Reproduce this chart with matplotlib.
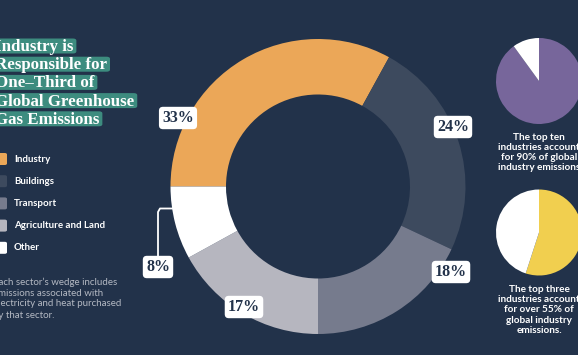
import matplotlib
matplotlib.use("Agg")
import matplotlib.pyplot as plt
from matplotlib.patches import FancyBboxPatch

# data
sectors = ["Industry", "Buildings", "Transport", "Agriculture and Land", "Other"]
shares = [33, 24, 18, 17, 8]
sector_colors = ["#eba758", "#3d4a5e", "#767b8d", "#b6b6bf", "#ffffff"]

top_ten = [90, 10]
top_three = [55, 45]

title_lines = ["Industry is", "Responsible for", "One\u2013Third of",
               "Global Greenhouse", "Gas Emissions"]
note_lines = ["Each sector\u2019s wedge includes", "emissions associated with",
              "electricity and heat purchased", "by that sector."]
top_ten_text = "The top ten\nindustries account\nfor 90% of global\nindustry emissions"
top_three_text = "The top three\nindustries account\nfor over 55% of\nglobal industry\nemissions."

BG = "#22324a"
TEAL = "#3d8c7f"
W, H = 578, 355


def fx(x):
    return x / W


def fy(y):
    return 1 - y / H


fig = plt.figure(figsize=(W / 100, H / 100), dpi=100, facecolor=BG)

# main donut
cx, cy, R, r_in = 318, 186.5, 147.5, 92
ax = fig.add_axes([fx(cx - R), fy(cy + R), 2 * R / W, 2 * R / H])
ax.pie(shares, colors=sector_colors, startangle=180, counterclock=False,
       radius=1, wedgeprops=dict(width=(R - r_in) / R, linewidth=0))
ax.set_xlim(-1, 1)
ax.set_ylim(-1, 1)
ax.axis("off")

# percent labels (pixel positions of the boxes)
label_pos = [(178, 118), (453, 127), (451, 272), (244, 307), (158, 267)]
for (px, py), s in zip(label_pos, shares):
    fig.text(fx(px), fy(py), f"{s}%", ha="center", va="center",
             family="Liberation Serif", weight="bold", fontsize=11.5, color=BG,
             bbox=dict(boxstyle="round,pad=0.2,rounding_size=0.25",
                       fc="white", ec="none"))

# connector for the small wedge
fig.add_artist(plt.Line2D([fx(158), fx(158), fx(160), fx(172)],
                          [fy(258), fy(212), fy(208.5), fy(208.5)],
                          color="white", lw=1.3, transform=fig.transFigure))

# title with per-line highlight boxes
renderer = fig.canvas.get_renderer()
for i, line in enumerate(title_lines):
    yc = 46 + i * 18.2
    t = fig.text(fx(-5), fy(yc + 1), line, ha="left", va="center",
                 family="Liberation Serif", weight="bold", fontsize=12.2,
                 color="white", zorder=3)
    bb = t.get_window_extent(renderer)
    fig.add_artist(FancyBboxPatch((fx(-10), fy(yc + 7.5)), (bb.x1 + 13) / W, 15 / H,
                                  boxstyle="round,pad=0,rounding_size=0.006",
                                  fc=TEAL, ec="none", transform=fig.transFigure,
                                  zorder=2))

# legend
for i, (name, c) in enumerate(zip(sectors, sector_colors)):
    y = 159 + i * 22.2
    fig.add_artist(FancyBboxPatch((fx(-4), fy(y + 6)), 11 / W, 12 / H,
                                  boxstyle="round,pad=0,rounding_size=0.004",
                                  fc=c, ec="none", transform=fig.transFigure))
    fig.text(fx(14), fy(y), name, ha="left", va="center", family="Lato",
             weight="bold", fontsize=7, color="white")

# note
for i, line in enumerate(note_lines):
    fig.text(fx(-7), fy(282 + i * 11), line, ha="left", va="center",
             family="Lato", fontsize=7, color="#b4b9c3")

# small pies
pr = 43
ax1 = fig.add_axes([fx(539 - pr), fy(81 + pr), 2 * pr / W, 2 * pr / H])
ax1.pie(top_ten, colors=["#77669b", "white"], startangle=90, counterclock=False,
        wedgeprops=dict(linewidth=0))
ax1.set_xlim(-1, 1)
ax1.set_ylim(-1, 1)
ax1.axis("off")
fig.text(fx(539), fy(152.5), top_ten_text, ha="center", va="center", family="Lato",
         weight="bold", fontsize=7.2, color="white", linespacing=1.15)

ax2 = fig.add_axes([fx(539 - pr), fy(232.5 + pr), 2 * pr / W, 2 * pr / H])
ax2.pie(top_three, colors=["#f1cf4f", "white"], startangle=90, counterclock=False,
        wedgeprops=dict(linewidth=0))
ax2.set_xlim(-1, 1)
ax2.set_ylim(-1, 1)
ax2.axis("off")
fig.text(fx(539), fy(310), top_three_text, ha="center", va="center", family="Lato",
         weight="bold", fontsize=7.2, color="white", linespacing=1.15)

fig.savefig("out.png", dpi=100, facecolor=BG)
